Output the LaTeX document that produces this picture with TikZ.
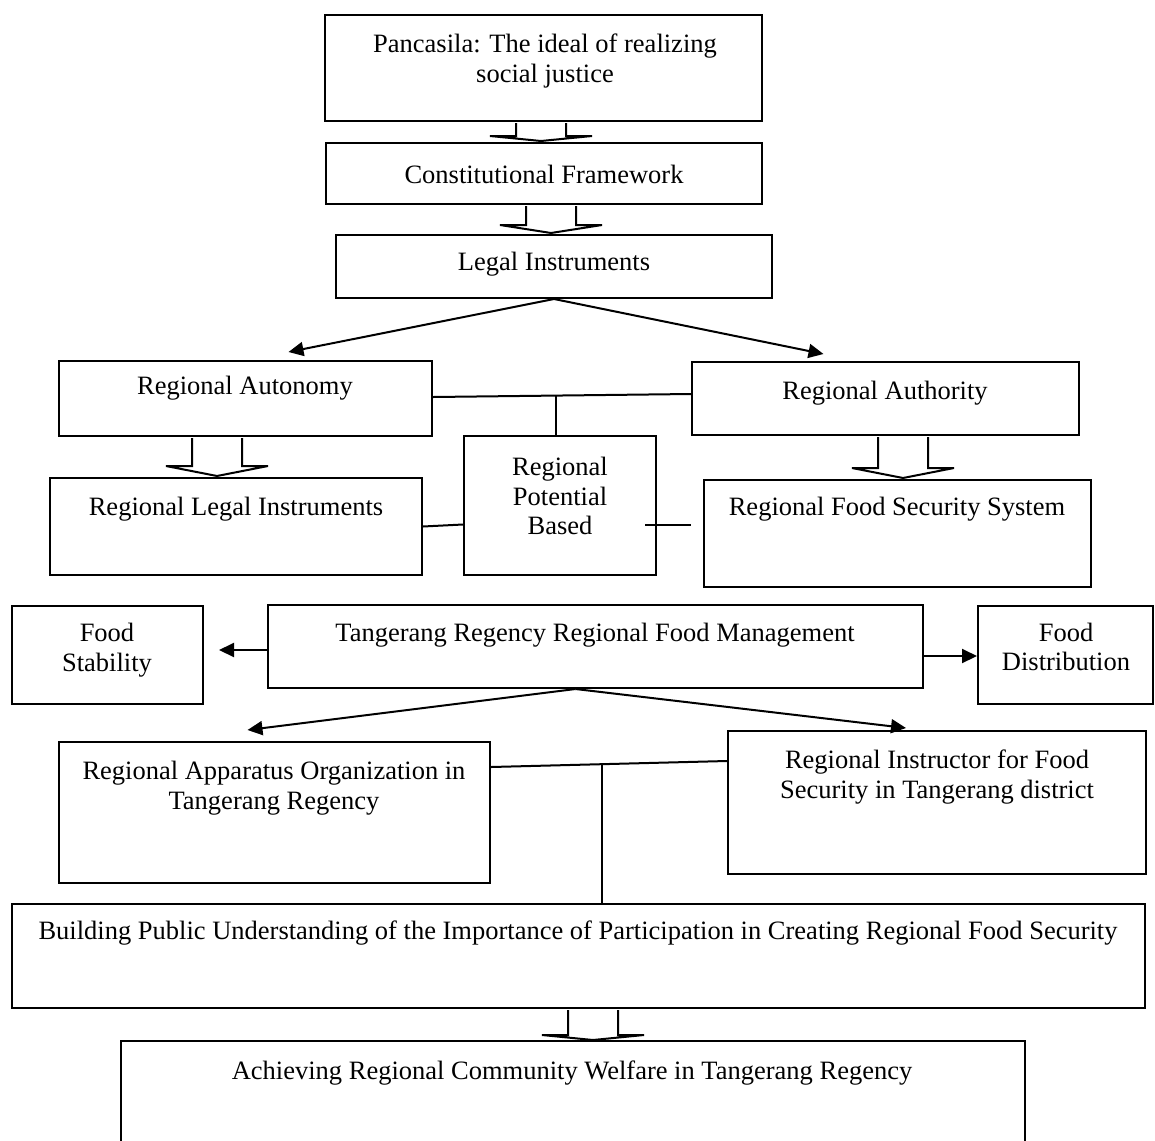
\documentclass[tikz,border=0pt]{standalone}
\usepackage{fontspec}
\setmainfont{Liberation Serif}
\usetikzlibrary{arrows.meta,calc}
\tikzset{
  ln/.style={line width=2pt},
  arr/.style={line width=2pt,-{Triangle[length=15pt,width=14pt]}},
  blkst/.style={line width=2pt,fill=white,line join=miter},
  txt/.style={align=center,inner sep=0pt,font=\fontsize{26.5}{29.5}\selectfont},
  one/.style={txt,text height=18pt,text depth=6pt}
}
\newcommand\mkbox[6][draw]{\node[#1,line width=2pt,inner sep=0pt,minimum width={#5pt-#3pt},minimum height={#6pt-#4pt}] (#2) at ({(#3+#5)/2},{(#4+#6)/2}) {};}
\newcommand\blk[4]{\draw[blkst] let \p1=(#1.south), \p2=(#2.north) in
  (#3pt-25pt,\y1-1pt) -- (#3pt-25pt,\y2+#4pt) -- (#3pt-51pt,\y2+#4pt) -- (#3pt,\y2+1pt) -- (#3pt+51pt,\y2+#4pt) -- (#3pt+25pt,\y2+#4pt) -- (#3pt+25pt,\y1-1pt);}
\begin{document}
\begin{tikzpicture}[x=1pt,y=-1pt]
\useasboundingbox (0,0) rectangle (1155,1140);
% boxes
\mkbox{pan}{325}{15}{762}{121}
\mkbox{con}{326}{143}{762}{204}
\mkbox{leg}{336}{235}{772}{298}
\mkbox{aut}{59}{361}{432}{436}
\mkbox{ath}{692}{362}{1079}{435}
\mkbox{rli}{50}{478}{422}{575}
\mkbox{rpb}{464}{436}{656}{575}
\mkbox{rfs}{704}{480}{1091}{587}
\mkbox{fst}{12}{606}{203}{704}
\mkbox{tan}{268}{605}{923}{688}
\mkbox{fdi}{978}{606}{1153}{704}
\mkbox{apo}{59}{742}{490}{883}
\mkbox{rif}{728}{731}{1146}{874}
\mkbox{bpu}{12}{904}{1145}{1008}
\mkbox[draw=none]{ach}{122}{1042}{1024}{1170}
\draw[ln] (ach.south west) -- (ach.north west) -- (ach.north east) -- (ach.south east);
% texts
\node[txt] (t-pan) at (545,61) {Pancasila: The ideal of realizing\\social justice};
\node[one] (t-con) at (544,177) {Constitutional Framework};
\node[one] (t-leg) at (554,264) {Legal Instruments};
\node[one] (t-aut) at (245,388) {Regional Autonomy};
\node[one] (t-ath) at (885,393) {Regional Authority};
\node[one] (t-rli) at (236,509) {Regional Legal Instruments};
\node[txt] (t-rpb) at (560,496) {Regional\\Potential\\Based};
\node[one] (t-rfs) at (897,509) {Regional Food Security System};
\node[txt] (t-fst) at (107,650) {Food\\Stability};
\node[one] (t-tan) at (595,635) {Tangerang Regency Regional Food Management};
\node[txt] (t-fdi) at (1066,647) {Food\\Distribution};
\node[txt] (t-apo) at (274,788) {Regional Apparatus Organization in\\Tangerang Regency};
\node[txt] (t-rif) at (937,777) {Regional Instructor for Food\\Security in Tangerang district};
\node[one] (t-bpu) at (578,933) {Building Public Understanding of the Importance of Participation in Creating Regional Food Security};
\node[one] (t-ach) at (572,1073) {Achieving Regional Community Welfare in Tangerang Regency};
% block arrows
\blk{pan}{con}{541}{6}
\blk{con}{leg}{551}{9}
\blk{aut}{rli}{217}{11}
\blk{ath}{rfs}{903}{11}
\blk{bpu}{ach}{593}{6}
% arrows
\draw[arr] (leg.south) -- ($(aut.north)+(43,-8)$);
\draw[arr] (leg.south) -- ($(ath.north)+(-62,-7)$);
\draw[arr] ($(tan.west)+(0,3.5)$) -- ($(fst.east)+(15,-5)$);
\draw[arr] ($(tan.east)+(0,9.5)$) -- ($(fdi.west)+(0,1)$);
\draw[arr] ($(tan.south)+(-20,0)$) -- ($(apo.north)+(-27,-11)$);
\draw[arr] ($(tan.south)+(-20,0)$) -- ($(rif.north)+(-31,-2)$);
% plain lines
\coordinate (a1) at ($(aut.east)+(0,-1.5)$);
\coordinate (a2) at ($(ath.west)+(0,-4.5)$);
\draw[ln] (a1) -- (a2);
\draw[ln] ($(a1)!0.477!(a2)$) coordinate (j1) -- (j1 |- rpb.north);
\draw[ln] (rli.east) -- ($(rpb.west |- rli.east)+(0,-2)$);
\draw[ln] ($(rpb.east |- rli.east)+(-12,-2)$) -- ($(rfs.west |- rli.east)+(-12,-2)$);
\coordinate (l1) at ($(apo.north east)+(0,26)$);
\coordinate (l2) at ($(rif.north west)+(0,31)$);
\draw[ln] (l1) -- (l2);
\draw[ln] ($(l1)!0.47!(l2)$) coordinate (j2) -- (j2 |- bpu.north);
\end{tikzpicture}
\end{document}
